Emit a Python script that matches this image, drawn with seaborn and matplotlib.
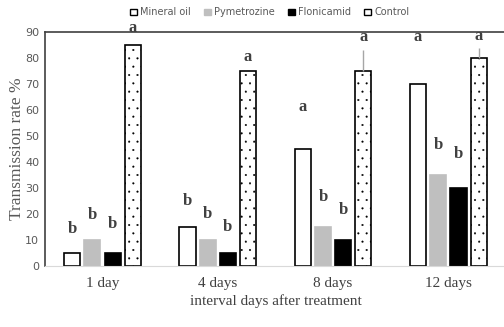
import pandas as pd
import numpy as np
import matplotlib.pyplot as plt
import seaborn as sns
from matplotlib.patches import Patch

days = ['1 day', '4 days', '8 days', '12 days']
treatments = ['Mineral oil', 'Pymetrozine', 'Flonicamid', 'Control']

mineral_oil = [5, 15, 45, 70]
pymetrozine = [10, 10, 15, 35]
flonicamid = [5, 5, 10, 30]
control = [85, 75, 75, 80]
control_err = [0, 0, 8, 4]

# significance letters and where they sit
letters = {
    'Mineral oil': ['b', 'b', 'a', 'a'],
    'Pymetrozine': ['b', 'b', 'b', 'b'],
    'Flonicamid': ['b', 'b', 'b', 'b'],
    'Control': ['a', 'a', 'a', 'a'],
}
letter_y = {
    'Mineral oil': [14, 25, 61, 88],
    'Pymetrozine': [19.5, 20, 26.5, 46.5],
    'Flonicamid': [16, 15, 21.5, 43],
    'Control': [91.5, 80.5, 88, 88.5],
}

df = pd.DataFrame({
    'Day': days * 4,
    'Treatment': np.repeat(treatments, 4),
    'Rate': mineral_oil + pymetrozine + flonicamid + control,
})

sns.set_style('white')
plt.rcParams['hatch.linewidth'] = 0.25

fig = plt.figure(figsize=(5.04, 3.27), dpi=100)
ax = fig.add_axes([0.089, 0.187, 0.915, 0.715])

face = {'Mineral oil': 'white', 'Pymetrozine': '#bfbfbf', 'Flonicamid': 'black', 'Control': 'white'}
edge = {'Mineral oil': 'black', 'Pymetrozine': '#bfbfbf', 'Flonicamid': 'black', 'Control': 'black'}
hatch = {'Mineral oil': None, 'Pymetrozine': None, 'Flonicamid': None, 'Control': '..'}

sns.barplot(data=df, x='Day', y='Rate', hue='Treatment', hue_order=treatments,
            order=days, width=0.7, gap=0.2, ax=ax, legend=False, errorbar=None,
            palette=face)

for cont, t in zip(ax.containers, treatments):
    for i, bar in enumerate(cont):
        bar.set_facecolor(face[t])
        bar.set_edgecolor(edge[t])
        bar.set_linewidth(1.2)
        if hatch[t]:
            bar.set_hatch(hatch[t])
        xc = bar.get_x() + bar.get_width() / 2
        if t == 'Control' and control_err[i] > 0:
            ax.errorbar(xc, bar.get_height(), yerr=[[0], [control_err[i]]],
                        fmt='none', ecolor='#a6a6a6', elinewidth=1, capsize=0)
        ax.text(xc, letter_y[t][i], letters[t][i], ha='center', va='center',
                fontsize=12, fontweight='bold', family='Liberation Serif',
                color='#404040', clip_on=False)

ax.set_ylim(0, 90)
ax.set_xlim(-0.5, 3.5)
ax.set_yticks(range(0, 91, 10))
ax.tick_params(axis='y', labelsize=8, labelcolor='#595959', length=0, pad=4)
ax.tick_params(axis='x', labelsize=11, labelcolor='#404040', length=0, pad=8)
for lab in ax.get_xticklabels():
    lab.set_family('Liberation Serif')
ax.set_ylabel('Transmission rate %', family='Liberation Serif', fontsize=12.5,
              color='#595959', labelpad=0)
ax.set_xlabel('interval days after treatment', family='Liberation Serif',
              fontsize=11, color='#404040', labelpad=3)

for s in ['left', 'top']:
    ax.spines[s].set_color('#404040')
    ax.spines[s].set_linewidth(1.2)
ax.spines['bottom'].set_color('#d9d9d9')
ax.spines['right'].set_visible(False)

handles = [Patch(facecolor=face[t], edgecolor=edge[t], hatch=hatch[t], linewidth=1)
           for t in treatments]
fig.legend(handles, treatments, loc='center', bbox_to_anchor=(0.535, 0.962), ncol=4,
           frameon=False, fontsize=7, handlelength=0.7, handleheight=0.7,
           handletextpad=0.3, columnspacing=1.4, labelcolor='#595959')

fig.savefig('out.png', dpi=100, facecolor='white')
